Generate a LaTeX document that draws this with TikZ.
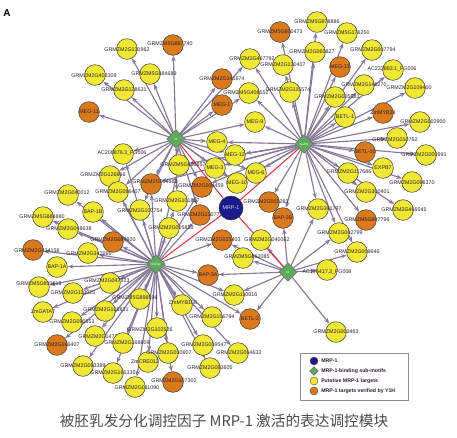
\documentclass[tikz,border=0pt]{standalone}
\usepackage{fontspec}
\setmainfont{Liberation Sans}
\newfontfamily\cjkfont{Noto Sans CJK SC}
\usetikzlibrary{shapes.geometric,arrows.meta}
\pgfdeclarelayer{bg}
\pgfsetlayers{bg,main}
\definecolor{yel}{HTML}{F0E832}
\definecolor{org}{HTML}{DA7A1C}
\definecolor{blu}{HTML}{1A1A8C}
\definecolor{grn}{HTML}{5DAA5D}
\definecolor{edg}{HTML}{857896}
\definecolor{lblc}{HTML}{2A1E2E}
\definecolor{capc}{HTML}{4A4A4A}
\definecolor{redl}{HTML}{E0303E}
\tikzset{
 base/.style={circle,inner sep=0pt,minimum size=15.5pt,draw=black!75,line width=0.4pt},
 yc/.style={base,fill=yel},
 oc/.style={base,fill=org},
 bc/.style={circle,inner sep=0pt,minimum size=18pt,draw=black!80,fill=blu,line width=0.4pt},
 dm/.style={diamond,inner sep=0pt,minimum width=14pt,minimum height=14pt,draw=black!60,fill=grn,line width=0.4pt,font=\fontsize{2.4}{2.4}\selectfont,text=white},
 lbl/.style={font=\fontsize{4}{4}\selectfont,text=lblc,inner sep=0pt},
 edge/.style={draw=edg,line width=0.85pt,-{Stealth[length=4.4pt,width=3.2pt]}},
 redge/.style={draw=redl,line width=0.75pt},
 legtxt/.style={font=\bfseries\fontsize{3.9}{4}\selectfont,text=lblc,inner sep=0pt,anchor=west},
}
\newcommand\Nd[5]{\node[#2] (#1) at (#3) {}; \node[lbl] at (#4) {#5};}
\begin{document}
\begin{tikzpicture}[x=0.75pt,y=-0.75pt]
\useasboundingbox (0,0) rectangle (457,437);
\node[font=\bfseries\fontsize{7.5}{8}\selectfont] (lettA) at (7,13) {A};
% diamonds
\node[dm] (D1) at (176,139) {III};
\node[dm] (D2) at (304,144) {GaRb};
\node[dm] (D3) at (156,264) {DofSa};
\node[dm] (D4) at (288,272) {Ib};
% top-left
\Nd{n1}{yc}{127,49}{127,50}{GRMZM2G131962}
\Nd{n2}{yc}{95,75}{94,76}{GRMZM2G402309}
\Nd{n3}{yc}{124,90}{124,90}{GRMZM2G128631}
\Nd{n4}{oc}{89,112}{89,112}{MEG-11}
\Nd{n5}{yc}{150,74}{154,74}{GRMZM5G884689}
\Nd{n6}{oc}{173,45}{170,44}{GRMZM5G887740}
\Nd{n7}{oc}{222,79}{222,79}{GRMZM2G141674}
\Nd{n8}{oc}{222,105}{222,105}{MEG-1}
\Nd{n9}{yc}{249,93}{246,93}{GRMZM5G408552}
\Nd{n10}{yc}{255,122}{255,122}{MEG-9}
\Nd{n11}{yc}{250,59}{252,59}{GRMZM2G467792}
\Nd{n12}{yc}{123,154}{122,153}{AC208876.3\_FG006}
\Nd{n13}{yc}{110,176}{103,175}{GRMZM2G126866}
\Nd{n14}{oc}{151,184}{155,182}{GRMZM2G004662}
\Nd{n15}{yc}{68,195}{67,193}{GRMZM2G040012}
\Nd{n16}{yc}{118,192}{118,192}{GRMZM2G086407}
\Nd{n17}{yc}{43,217}{42,217}{GRMZM5G888880}
\Nd{n18}{yc}{93,212}{93,212}{BAP-1B}
\Nd{n19}{yc}{140,210}{140,211}{GRMZM2G107754}
\Nd{n20}{yc}{68,229}{69,229}{GRMZM2G048638}
\Nd{n21}{oc}{113,242}{113,240}{GRMZM2G069920}
\Nd{n22}{oc}{33,250}{37,251}{GRMZM2G434158}
\Nd{n23}{yc}{88,253}{89,254}{GRMZM2G347066}
\Nd{n24}{yc}{57,267}{57,267}{BAP-1A}
% top-right
\Nd{n25}{oc}{280,32}{280,32}{GRMZM5G800473}
\Nd{n26}{yc}{283,65}{283,65}{GRMZM2G130407}
\Nd{n27}{yc}{290,92}{288,90}{GRMZM2G115574}
\Nd{n28}{yc}{317,22}{317,22}{GRMZM5G878886}
\Nd{n29}{yc}{347,33}{347,33}{GRMZM5G176250}
\Nd{n30}{yc}{372,50}{373,50}{GRMZM2G007794}
\Nd{n31}{yc}{315,52}{312,52}{GRMZM2G060827}
\Nd{n32}{oc}{340,67}{340,67}{MEG-13}
\Nd{n33}{yc}{393,70}{392,69}{AC233883.1\_FG006}
\Nd{n34}{yc}{364,85}{364,85}{GRMZM2G146270}
\Nd{n35}{yc}{415,88}{409,88}{GRMZM2G109400}
\Nd{n36}{yc}{335,97}{337,97}{GRMZM2G005633}
\Nd{n37}{oc}{383,113}{383,113}{ZmMYB38}
\Nd{n38}{yc}{345,117}{345,117}{BETL-1}
\Nd{n39}{yc}{420,122}{423,122}{GRMZM2G002900}
\Nd{n40}{yc}{397,138}{395,140}{GRMZM2G010762}
\Nd{n41}{oc}{365,152}{365,152}{BETL-10}
\Nd{n42}{yc}{426,155}{424,155}{GRMZM2G000991}
\Nd{n43}{yc}{348,173}{349,172}{GRMZM2G117686}
\Nd{n44}{yc}{383,168}{383,168}{EXPB7}
\Nd{n45}{yc}{412,182}{412,183}{GRMZM2G096370}
\Nd{n46}{yc}{366,192}{367,192}{GRMZM2G300401}
\Nd{n47}{yc}{318,209}{319,209}{GRMZM2G341797}
\Nd{n48}{yc}{403,210}{404,210}{GRMZM2G466545}
\Nd{n49}{oc}{366,220}{367,220}{GRMZM5G897796}
\Nd{n50}{yc}{339,233}{340,233}{GRMZM2G082799}
\Nd{n51}{yc}{357,252}{357,252}{GRMZM2G009646}
\Nd{n52}{yc}{327,270}{327,272}{AC196417.3\_FG008}
\Nd{n53}{yc}{336,332}{336,332}{GRMZM2G003463}
% centre
\Nd{n54}{yc}{217,142}{217,142}{MEG-4}
\Nd{n55}{yc}{235,155}{235,155}{MEG-12}
\Nd{n56}{yc}{179,165}{183,165}{GRMZM5G880657}
\Nd{n57}{yc}{215,168}{215,168}{MEG-3}
\Nd{n58}{yc}{256,173}{256,173}{MEG-6}
\Nd{n59}{yc}{237,183}{237,183}{MEG-10}
\Nd{n60}{oc}{202,187}{201,186}{GRMZM2G004459}
\Nd{n61}{yc}{177,201}{177,201}{GRMZM2G101817}
\Nd{n62}{oc}{200,215}{200,215}{GRMZM2G130772}
\Nd{n63}{oc}{269,202}{266,202}{GRMZM2G002283}
\Nd{n64}{oc}{283,218}{283,218}{BAP-3B}
\Nd{n65}{yc}{169,228}{171,228}{GRMZM2G005813}
\Nd{n66}{oc}{222,240}{218,240}{GRMZM2G033403}
\Nd{n67}{yc}{261,240}{267,240}{GRMZM2G040062}
\Nd{n68}{yc}{243,258}{247,257}{GRMZM5G862085}
% bottom-left
\Nd{n69}{yc}{39,287}{39,284}{GRMZM5G803815}
\Nd{n70}{yc}{110,283}{107,281}{GRMZM2G047823}
\Nd{n71}{yc}{73,293}{73,293}{GRMZM2G113025}
\Nd{n72}{yc}{43,312}{43,312}{ZmGATA7}
\Nd{n73}{yc}{105,311}{106,310}{GRMZM2G128831}
\Nd{n74}{yc}{140,299}{135,298}{GRMZM5G898596}
\Nd{n75}{yc}{72,322}{72,322}{GRMZM2G090553}
\Nd{n76}{yc}{95,336}{101,337}{GRMZM2G147229}
\Nd{n77}{yc}{123,343}{127,343}{GRMZM2G168809}
\Nd{n78}{yc}{157,328}{150,330}{GRMZM2G102526}
\Nd{n79}{oc}{57,345}{57,345}{GRMZM2G166407}
\Nd{n80}{yc}{83,366}{83,366}{GRMZM2G093389}
\Nd{n81}{yc}{113,373}{113,373}{GRMZM2G165335}
\Nd{n82}{yc}{148,362}{145,362}{ZmCRE012}
\Nd{n83}{yc}{135,387}{137,388}{GRMZM2G011090}
\Nd{n84}{oc}{208,275}{208,275}{BAP-3A}
\Nd{n85}{yc}{234,295}{235,295}{GRMZM2G110816}
\Nd{n86}{yc}{182,305}{183,303}{ZmMYB108}
\Nd{n87}{yc}{212,317}{212,317}{GRMZM2G156794}
\Nd{n88}{oc}{250,319}{250,319}{BETL-2}
\Nd{n89}{yc}{203,345}{204,345}{GRMZM2G039547}
\Nd{n90}{yc}{238,353}{239,353}{GRMZM2G064632}
\Nd{n91}{yc}{168,353}{169,353}{GRMZM2G030607}
\Nd{n92}{yc}{210,368}{210,368}{GRMZM2G083605}
\Nd{n93}{oc}{173,382}{174,381}{GRMZM2G107302}
% MRP-1
\node[bc] (MRP) at (231,208) {};
\node[lbl,text=white!85!blue] at (231,208) {MRP-1};
% edges
\begin{pgfonlayer}{bg}
\foreach \t in {n1,n2,n3,n4,n5,n6,n7,n8,n9,n10,n11,n12,n13,n14,n16,n19,n54,n55,n56,n57,n58,n59,n60,n61,n62}
  \draw[edge] (D1) -- (\t);
\foreach \t in {n25,n26,n27,n28,n29,n30,n31,n32,n33,n34,n35,n36,n37,n38,n39,n40,n41,n42,n43,n44,n45,n46,n47,n48,n49,n50,n51,n9,n10,n11,n54,n55,n56,n57,n58,n59,n60,n63,n14,n64}
  \draw[edge] (D2) -- (\t);
\foreach \t in {n12,n13,n15,n16,n17,n18,n19,n20,n21,n22,n23,n24,n69,n70,n71,n72,n73,n74,n75,n76,n77,n78,n79,n80,n81,n82,n83,n84,n85,n86,n87,n88,n89,n90,n91,n92,n93,n65,n66,n62,n61,n60,n14,n56}
  \draw[edge] (D3) -- (\t);
\foreach \t in {n52,n53,n51,n50,n84,n85,n88,n68,n67,n66,n64,n47}
  \draw[edge] (D4) -- (\t);
\draw[redge] (MRP) -- (D1);
\draw[redge] (MRP) -- (D2);
\draw[redge] (MRP) -- (D3);
\draw[redge] (MRP) -- (D4);
\end{pgfonlayer}
% legend
\draw[draw=black!45,line width=0.5pt,fill=white] (300,353) rectangle (408,400);
\node[circle,inner sep=0pt,minimum size=6pt,fill=blu,draw=black!70,line width=0.3pt] (L1) at (314,361) {};
\node[legtxt] (T1) at (321,361) {MRP-1};
\node[diamond,inner sep=0pt,minimum size=6.5pt,fill=grn,draw=black!60,line width=0.3pt] (L2) at (314,371) {};
\node[legtxt] (T2) at (321,371) {MRP-1-binding sub-motifs};
\node[circle,inner sep=0pt,minimum size=6pt,fill=yel,draw=black!70,line width=0.3pt] (L3) at (314,381) {};
\node[legtxt] (T3) at (321,381) {Putative MRP-1 targets};
\node[circle,inner sep=0pt,minimum size=6pt,fill=org,draw=black!70,line width=0.3pt] (L4) at (314,391) {};
\node[legtxt] (T4) at (321,391) {MRP-1 targets verified by Y1H};
% caption
\node[font=\cjkfont\fontsize{11}{12}\selectfont,text=capc] (cap) at (224,421) {被胚乳发分化调控因子 MRP-1 激活的表达调控模块};
\end{tikzpicture}
\end{document}
